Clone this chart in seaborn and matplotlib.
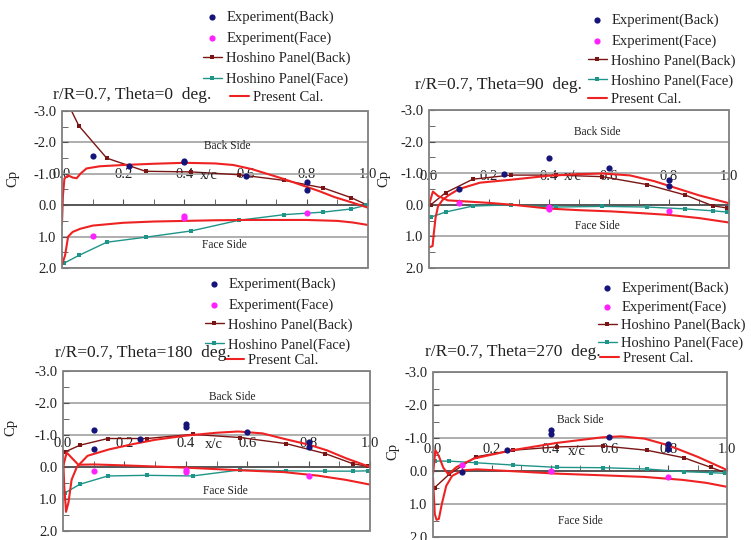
import matplotlib
matplotlib.use('Agg')
import matplotlib.pyplot as plt
import numpy as np
import seaborn as sns

# ---- data ----
hos_x = [0.006, 0.055, 0.146, 0.273, 0.422, 0.578, 0.727, 0.854, 0.945, 0.994]

# Theta = 0
exp_back_x_0 = [0.1, 0.22, 0.4, 0.4, 0.6, 0.8, 0.8]
exp_back_cp_0 = [-1.58, -1.24, -1.42, -1.36, -0.92, -0.74, -0.47]
exp_face_x_0 = [0.1, 0.4, 0.4, 0.8]
exp_face_cp_0 = [0.97, 0.34, 0.42, 0.26]
hos_back_0 = [-3.5, -2.53, -1.5, -1.08, -1.06, -0.97, -0.79, -0.55, -0.24, -0.02]
hos_face_0 = [1.85, 1.6, 1.18, 1.02, 0.82, 0.48, 0.30, 0.22, 0.12, 0.0]
pc_back_x_0 = [0.0, 0.003, 0.008, 0.02, 0.035, 0.048, 0.06, 0.08, 0.124, 0.2, 0.3, 0.4,
               0.5, 0.56, 0.62, 0.67, 0.72, 0.78, 0.84, 0.89, 0.95, 1.0]
pc_back_cp_0 = [0.6, -0.3, -0.85, -0.95, -0.88, -0.86, -1.0, -1.17, -1.24, -1.28, -1.32, -1.35,
                -1.33, -1.28, -1.15, -1.0, -0.85, -0.65, -0.45, -0.26, -0.08, 0.08]
pc_face_x_0 = [0.0, 0.01, 0.02, 0.035, 0.06, 0.1, 0.2, 0.3, 0.4, 0.5, 0.6, 0.7, 0.8, 0.9, 0.95, 1.0]
pc_face_cp_0 = [1.9, 1.6, 1.0, 0.85, 0.75, 0.65, 0.56, 0.52, 0.5, 0.48, 0.47, 0.47, 0.47, 0.5, 0.55, 0.63]

# Theta = 90
exp_back_x_90 = [0.1, 0.25, 0.4, 0.6, 0.8, 0.8]
exp_back_cp_90 = [-0.5, -0.99, -1.49, -1.15, -0.78, -0.58]
exp_face_x_90 = [0.1, 0.4, 0.4, 0.8]
exp_face_cp_90 = [-0.06, 0.07, 0.12, 0.2]
hos_back_90 = [0.0, -0.38, -0.81, -0.94, -0.94, -0.89, -0.64, -0.31, 0.03, 0.1]
hos_face_90 = [0.39, 0.23, 0.04, 0.0, 0.07, 0.05, 0.07, 0.13, 0.19, 0.23]
pc_back_x_90 = [0.0, 0.012, 0.016, 0.022, 0.03, 0.045, 0.065, 0.1, 0.17, 0.28, 0.4, 0.5,
                0.58, 0.67, 0.75, 0.8, 0.9, 1.0]
pc_back_cp_90 = [1.35, 1.3, 0.9, 0.4, 0.05, -0.15, -0.3, -0.5, -0.7, -0.8, -0.92, -0.97,
                 -0.99, -0.93, -0.75, -0.6, -0.3, -0.05]
pc_face_x_90 = [0.0, 0.013, 0.03, 0.063, 0.1, 0.2, 0.28, 0.4, 0.5, 0.61, 0.7, 0.8, 0.9, 1.0]
pc_face_cp_90 = [0.0, -0.42, -0.28, -0.14, -0.12, -0.06, 0.0, 0.12, 0.17, 0.21, 0.26, 0.32, 0.42, 0.56]

# Theta = 180
exp_back_x_180 = [0.1, 0.1, 0.25, 0.4, 0.4, 0.6, 0.8, 0.8]
exp_back_cp_180 = [-1.17, -0.55, -0.89, -1.33, -1.25, -1.09, -0.78, -0.62]
exp_face_x_180 = [0.1, 0.4, 0.4, 0.8]
exp_face_cp_180 = [0.12, 0.09, 0.15, 0.29]
hos_back_180 = [-0.47, -0.68, -0.89, -0.89, -1.02, -0.92, -0.73, -0.42, -0.1, -0.02]
hos_face_180 = [0.81, 0.54, 0.28, 0.26, 0.28, 0.09, 0.12, 0.13, 0.13, 0.12]
pc_back_x_180 = [0.0, 0.004, 0.01, 0.018, 0.028, 0.045, 0.08, 0.15, 0.23, 0.3, 0.4, 0.5,
                 0.57, 0.65, 0.72, 0.8, 0.86, 0.92, 1.0]
pc_back_cp_180 = [-0.45, 0.6, 1.4, 1.1, 0.4, 0.0, -0.35, -0.55, -0.72, -0.85, -0.98, -1.07,
                  -1.11, -1.05, -0.88, -0.7, -0.52, -0.28, 0.0]
pc_face_x_180 = [0.0, 0.012, 0.05, 0.1, 0.2, 0.4, 0.57, 0.72, 0.83, 0.92, 1.0]
pc_face_cp_180 = [0.0, -0.45, -0.07, -0.08, -0.05, 0.02, 0.1, 0.16, 0.27, 0.4, 0.55]

# Theta = 270
exp_back_x_270 = [0.1, 0.25, 0.4, 0.4, 0.6, 0.8, 0.8]
exp_back_cp_270 = [0.02, -0.65, -1.23, -1.13, -1.03, -0.83, -0.68]
exp_face_x_270 = [0.1, 0.4, 0.8]
exp_face_cp_270 = [-0.18, 0.0, 0.19]
hos_back_270 = [0.5, 0.1, -0.43, -0.63, -0.73, -0.76, -0.63, -0.4, -0.11, 0.05]
hos_face_270 = [-0.3, -0.3, -0.25, -0.18, -0.11, -0.1, -0.06, 0.02, 0.05, 0.07]
pc_back_x_270 = [0.0, 0.008, 0.02, 0.035, 0.052, 0.08, 0.14, 0.27, 0.42, 0.575, 0.64, 0.72,
                 0.8, 0.9, 1.0]
pc_back_cp_270 = [0.1, -0.63, -0.45, -0.1, 0.1, -0.12, -0.38, -0.63, -0.85, -1.02, -1.05, -0.98,
                  -0.78, -0.43, -0.03]
pc_face_x_270 = [0.0, 0.006, 0.012, 0.02, 0.03, 0.045, 0.065, 0.1, 0.15, 0.3, 0.42, 0.575,
                 0.72, 0.85, 0.93, 1.0]
pc_face_cp_270 = [0.2, 1.3, 1.48, 1.45, 1.0, 0.45, 0.15, -0.02, -0.05, 0.02, 0.08, 0.13,
                  0.18, 0.27, 0.36, 0.48]

thetas = [0, 90, 180, 270]
y_ticks = [-3, -2, -1, 0, 1, 2]
y_ticklabels = ['-3.0', '-2.0', '-1.0', '0.0', '1.0', '2.0']
x_ticks = [0.0, 0.2, 0.4, 0.6, 0.8, 1.0]
x_ticklabels = ['0.0', '0.2', '0.4', '0.6', '0.8', '1.0']
legend_labels = ['Experiment(Back)', 'Experiment(Face)', 'Hoshino Panel(Back)',
                 'Hoshino Panel(Face)']

# ---- styling ----
C_EB = '#14147a'
C_EF = '#ff22ff'
C_HB = '#7a1515'
C_HF = '#1f9488'
C_PC = '#ee2222'
FRAME = '#7f7f7f'
TXT = '#222222'

sns.set_style('white')
plt.rcParams['font.family'] = ['Liberation Serif', 'DejaVu Serif']

W, H = 751, 540
fig = plt.figure(figsize=(W / 100, H / 100), dpi=100)
fig.patch.set_facecolor('white')

# per panel layout, in pixels
ax_boxes = [(62, 111, 368, 268), (429, 110, 729, 268), (63, 371, 370, 531), (433, 372, 727, 537)]
title_pos = [(53, 95), (415, 85), (55, 353), (425, 352)]
legend_pos = [(203, 11), (588, 14), (205, 278), (598, 282)]
legend_spacing = [0.48, 0.45, 0.45, 0.32]
pc_legend_pos = [(230, 91), (588, 93), (225, 354), (600, 352)]
xlabel_pad = [13.5, 11.5, 8.0, 6.5]
xc_pos = [(0.48, -0.95), (0.48, -0.88), (0.49, -0.7), (0.49, -0.6)]
back_pos = [(0.54, -1.9), (0.56, -2.3), (0.55, -2.2), (0.5, -1.55)]
face_pos = [(0.53, 1.27), (0.56, 0.68), (0.53, 0.75), (0.5, 1.5)]
cp_pos = [(-0.14, 0.57), (-0.13, 0.57), (-0.15, 0.65), (-0.115, 0.52)]

panel_data = {
    0: (exp_back_x_0, exp_back_cp_0, exp_face_x_0, exp_face_cp_0, hos_back_0, hos_face_0,
        pc_back_x_0, pc_back_cp_0, pc_face_x_0, pc_face_cp_0),
    90: (exp_back_x_90, exp_back_cp_90, exp_face_x_90, exp_face_cp_90, hos_back_90, hos_face_90,
         pc_back_x_90, pc_back_cp_90, pc_face_x_90, pc_face_cp_90),
    180: (exp_back_x_180, exp_back_cp_180, exp_face_x_180, exp_face_cp_180, hos_back_180, hos_face_180,
          pc_back_x_180, pc_back_cp_180, pc_face_x_180, pc_face_cp_180),
    270: (exp_back_x_270, exp_back_cp_270, exp_face_x_270, exp_face_cp_270, hos_back_270, hos_face_270,
          pc_back_x_270, pc_back_cp_270, pc_face_x_270, pc_face_cp_270),
}

leg_kw = dict(frameon=False, borderpad=0, borderaxespad=0, handlelength=1.3,
              handletextpad=0.3, fontsize=10.5, labelcolor=TXT)

for i, th in enumerate(thetas):
    l, t, r, b = ax_boxes[i]
    ax = fig.add_axes([l / W, 1 - b / H, (r - l) / W, (b - t) / H])
    (ebx, eby, efx, efy, hb, hf, pbx, pby, pfx, pfy) = panel_data[th]

    sns.scatterplot(x=ebx, y=eby, ax=ax, color=C_EB, s=20, linewidth=0,
                    label='Experiment(Back)', zorder=5)
    sns.scatterplot(x=efx, y=efy, ax=ax, color=C_EF, s=20, linewidth=0,
                    label='Experiment(Face)', zorder=5)
    sns.lineplot(x=hos_x, y=hb, ax=ax, color=C_HB, lw=1.0, marker='s', markersize=3.5,
                 markeredgewidth=0, sort=False, estimator=None, label='Hoshino Panel(Back)', zorder=3)
    sns.lineplot(x=hos_x, y=hf, ax=ax, color=C_HF, lw=1.0, marker='s', markersize=3.5,
                 markeredgewidth=0, sort=False, estimator=None, label='Hoshino Panel(Face)', zorder=3)
    sns.lineplot(x=pbx, y=pby, ax=ax, color=C_PC, lw=1.5, sort=False, estimator=None,
                 label='Present Cal.', zorder=4)
    sns.lineplot(x=pfx, y=pfy, ax=ax, color=C_PC, lw=1.5, sort=False, estimator=None,
                 label='_pc_face', zorder=4)

    ax.set_xlim(0, 1)
    ax.set_ylim(2, -3)
    ax.set_yticks(y_ticks)
    ax.set_yticklabels(y_ticklabels)
    ax.set_yticks(np.arange(-3, 2.01, 0.5), minor=True)
    ax.set_xticks(x_ticks)
    ax.set_xticklabels(x_ticklabels)
    ax.set_xticks(np.arange(0, 1.01, 0.1), minor=True)
    ax.grid(axis='y', which='major', color='#a8a8a8', lw=1.3, zorder=0)
    ax.grid(axis='x', visible=False)

    for s in ['left', 'right', 'bottom']:
        ax.spines[s].set_visible(False)
    ax.spines['top'].set_position(('data', 0))
    ax.spines['top'].set_color('#505050')
    ax.spines['top'].set_linewidth(1.3)
    ax.spines['top'].set_visible(True)
    ax.add_patch(plt.Rectangle((0, 0), 1, 1, transform=ax.transAxes, fill=False,
                               ec=FRAME, lw=1.3, clip_on=False, zorder=6))

    ax.xaxis.set_ticks_position('top')
    ax.tick_params(axis='x', which='both', direction='out', length=4, color='#505050',
                   pad=xlabel_pad[i], labelsize=10.5, labelcolor=TXT)
    ax.tick_params(axis='y', which='both', direction='in', length=4, color='#505050',
                   left=True, right=False, pad=4, labelsize=10.5, labelcolor=TXT)

    ax.set_xlabel('')
    ax.set_ylabel('Cp', fontsize=10.5, color=TXT)
    ax.yaxis.set_label_coords(*cp_pos[i])

    ax.text(xc_pos[i][0], xc_pos[i][1], 'x/c', fontsize=10.5, color=TXT, ha='center', va='center')
    ax.text(back_pos[i][0], back_pos[i][1], 'Back Side', fontsize=8.3, color=TXT, ha='center', va='center')
    ax.text(face_pos[i][0], face_pos[i][1], 'Face Side', fontsize=8.3, color=TXT, ha='center', va='center')

    handles, labels = ax.get_legend_handles_labels()
    hmap = dict(zip(labels, handles))
    lx, ly = legend_pos[i]
    leg = ax.legend([hmap[k] for k in legend_labels], legend_labels, loc='upper left',
                    bbox_to_anchor=(lx / W, 1 - ly / H), bbox_transform=fig.transFigure,
                    labelspacing=legend_spacing[i], **leg_kw)
    ax.add_artist(leg)
    px, py = pc_legend_pos[i]
    ax.legend([hmap['Present Cal.']], ['Present Cal.'], loc='upper left',
              bbox_to_anchor=(px / W, 1 - py / H), bbox_transform=fig.transFigure, **leg_kw)

    tx, ty = title_pos[i]
    fig.text(tx / W, 1 - ty / H, 'r/R=0.7, Theta=%d  deg.' % th, fontsize=12.5,
             color=TXT, ha='left', va='center')

fig.savefig('out.png', dpi=100, facecolor='white')
